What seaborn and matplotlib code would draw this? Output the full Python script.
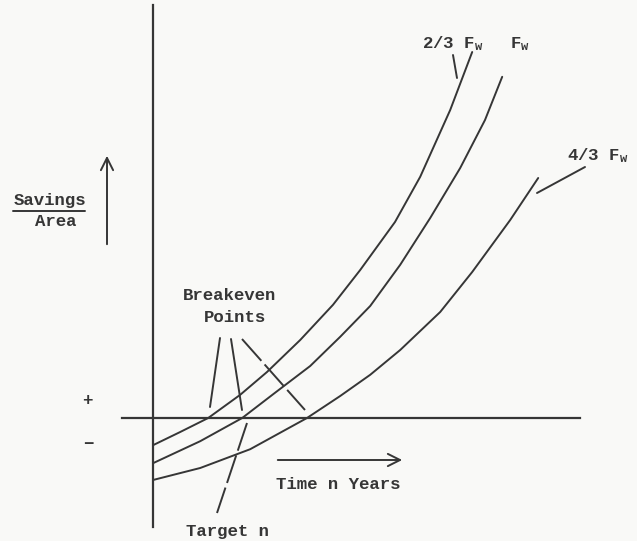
import numpy as np
import pandas as pd
import seaborn as sns
import matplotlib.pyplot as plt

# curves (years, savings/area), origin at the axes crossing
years_23 = [0.00, 0.68, 1.38, 2.18, 2.85, 3.68, 4.50, 5.18, 6.05, 6.68, 7.43, 7.98]
savings_23 = [-0.68, -0.35, 0.00, 0.58, 1.15, 1.95, 2.83, 3.70, 4.90, 6.03, 7.70, 9.15]

years_fw = [0.00, 1.18, 2.23, 3.05, 3.93, 4.68, 5.43, 6.18, 6.93, 7.68, 8.30, 8.73]
savings_fw = [-1.13, -0.58, 0.00, 0.63, 1.30, 2.03, 2.80, 3.83, 5.00, 6.25, 7.45, 8.53]

years_43 = [0.00, 1.18, 2.43, 3.85, 4.68, 5.43, 6.18, 7.18, 7.98, 8.93, 9.63]
savings_43 = [-1.55, -1.25, -0.78, 0.00, 0.55, 1.08, 1.70, 2.65, 3.65, 4.95, 6.00]

curve_names = ["2/3 Fw", "Fw", "4/3 Fw"]

df = pd.concat([
    pd.DataFrame({"years": years_23, "savings": savings_23, "curve": curve_names[0]}),
    pd.DataFrame({"years": years_fw, "savings": savings_fw, "curve": curve_names[1]}),
    pd.DataFrame({"years": years_43, "savings": savings_43, "curve": curve_names[2]}),
])

INK = "#363636"
PAPER = "#f9f9f7"

sns.set_style("white")
plt.rcParams["font.family"] = ["Liberation Mono", "DejaVu Sans Mono"]
plt.rcParams["font.weight"] = "bold"
plt.rcParams["mathtext.fontset"] = "custom"
plt.rcParams["mathtext.rm"] = "Liberation Mono:bold"
plt.rcParams["mathtext.it"] = "Liberation Mono:bold"

fig = plt.figure(figsize=(6.37, 5.41), dpi=100, facecolor=PAPER)
ax = fig.add_axes([0, 0, 1, 1])
ax.set_facecolor(PAPER)

sns.lineplot(data=df, x="years", y="savings", units="curve", estimator=None,
             sort=False, color=INK, lw=1.4, legend=False, ax=ax,
             solid_joinstyle="round")

# pixel -> data helper (40 px per unit, origin at px 153, 418)
S, X0, Y0 = 40.0, 153, 418
def P(x, y):
    return ((x - X0) / S, (Y0 - y) / S)

ax.set_xlim(-X0 / S, (637 - X0) / S)
ax.set_ylim((Y0 - 541) / S, Y0 / S)

# axes drawn as crossing lines
ax.spines["left"].set_position(("data", 0))
ax.spines["bottom"].set_position(("data", 0))
ax.spines["left"].set_bounds(P(0, 527)[1], P(0, 5)[1])
ax.spines["bottom"].set_bounds(P(122, 0)[0], P(580, 0)[0])
for side in ["left", "bottom"]:
    ax.spines[side].set_color(INK)
    ax.spines[side].set_linewidth(1.6)
ax.spines["top"].set_visible(False)
ax.spines["right"].set_visible(False)
ax.set_xticks([])
ax.set_yticks([])
ax.set_xlabel("")
ax.set_ylabel("")

fs = 12.5
txt = dict(color=INK, fontsize=fs, fontweight="bold")

# curve labels + leaders
ax.text(*P(422, 48), r"2/3 F$_{\mathrm{w}}$", ha="left", va="baseline", **txt)
ax.text(*P(510, 48), r"F$_{\mathrm{w}}$", ha="left", va="baseline", **txt)
ax.text(*P(567, 160), r"4/3 F$_{\mathrm{w}}$", ha="left", va="baseline", **txt)
ax.plot(*zip(P(453, 55), P(457, 78)), color=INK, lw=1.4)
ax.plot(*zip(P(585, 167), P(537, 193)), color=INK, lw=1.4)

# y label with arrow
ax.text(*P(50, 205), "Savings", ha="center", va="baseline", **txt)
ax.plot(*zip(P(13, 211), P(85, 211)), color=INK, lw=1.4)
ax.text(*P(56, 226), "Area", ha="center", va="baseline", **txt)
ax.annotate("", xy=P(107, 153), xytext=P(107, 247),
            arrowprops=dict(arrowstyle="->", color=INK, lw=1.4, mutation_scale=22))

ax.text(*P(87, 400), "+", ha="center", va="center", **txt)
ax.text(*P(88, 444), "\u2212", ha="center", va="center", **txt)

# breakeven points
ax.text(*P(230, 300), "Breakeven", ha="center", va="baseline", **txt)
ax.text(*P(235, 322), "Points", ha="center", va="baseline", **txt)
ax.plot(*zip(P(220, 338), P(210, 407)), color=INK, lw=1.4)
ax.plot(*zip(P(231, 339), P(242, 410)), color=INK, lw=1.4)
ax.plot(*zip(P(242, 339), P(305, 410)), color=INK, lw=1.4, ls=(0, (15, 2.5)))

# time axis label
ax.text(*P(338, 489), "Time n Years", ha="center", va="baseline", **txt)
ax.annotate("", xy=P(405, 460), xytext=P(275, 460),
            arrowprops=dict(arrowstyle="->", color=INK, lw=1.4, mutation_scale=22))

# target n
ax.text(*P(228, 536), "Target n", ha="center", va="baseline", **txt)
ax.plot(*zip(P(247, 423), P(217, 513)), color=INK, lw=1.4, ls=(0, (15, 2.5)))

fig.savefig("out.png", dpi=100, facecolor=PAPER)
